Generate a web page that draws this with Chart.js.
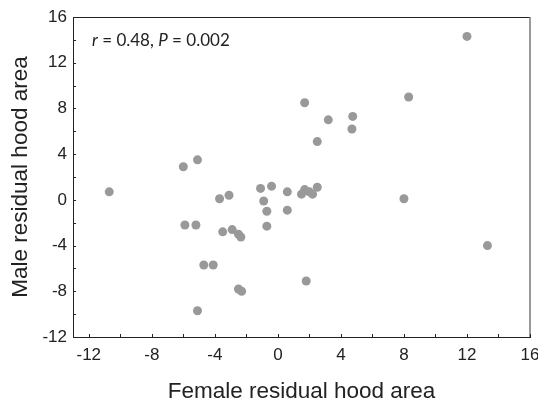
<!DOCTYPE html>
<html>
<head>
<meta charset="utf-8">
<script src="https://cdn.jsdelivr.net/npm/chart.js@4/dist/chart.umd.min.js"></script>
<style>
  body { margin: 0; background: #fff; }
  #wrap { width: 538px; height: 404px; }
</style>
</head>
<body>
<div id="wrap"><canvas id="ScatterGraph" width="538" height="404"></canvas></div>
<script>
// female residual (x) vs male residual (y) hood area
let FemaleResidual = [-10.7, -6.0, -5.1, -3.7, -3.1, -5.9, -5.2, -3.5, -2.9, -2.5, -2.35, -4.7, -4.1, -2.5, -2.3, -5.1,
    1.7, 3.2, 4.75, 4.7, 2.5, -1.1, -0.4, -0.9, -0.7, -0.7, 0.6, 0.6, 1.5, 1.7, 2.0, 2.2, 2.5, 1.8, 12.0, 8.3, 8.0, 13.3];
let MaleResidual = [0.7, 2.9, 3.5, 0.1, 0.4, -2.2, -2.2, -2.8, -2.6, -3.0, -3.25, -5.7, -5.7, -7.8, -8.0, -9.7,
    8.5, 7.0, 7.3, 6.2, 5.1, 1.0, 1.2, -0.1, -1.0, -2.3, 0.7, -0.9, 0.5, 0.9, 0.7, 0.5, 1.1, -7.1, 14.3, 9.0, 0.1, -4.0];
let XTicks = [-12, -10, -8, -6, -4, -2, 0, 2, 4, 6, 8, 10, 12, 14, 16];
let YTicks = [-12, -10, -8, -6, -4, -2, 0, 2, 4, 6, 8, 10, 12, 14, 16];
let AxisRange = {xMin: -13, xMax: 16, yMin: -12, yMax: 16};
let StatsText = ["r", " = 0.48, ", "P", " = 0.002"];

const grey = "#999999";
const axisColor = "#222222";

let points = FemaleResidual.map((x, i) => ({x: x, y: MaleResidual[i]}));

// draws the box top/right edges, inward tick marks and the r/P label
const frameAndTicks = {
    id: "frameAndTicks",
    afterDraw(chart) {
        const ctx = chart.ctx;
        const a = chart.chartArea;
        const xs = chart.scales.x, ys = chart.scales.y;
        ctx.save();
        ctx.lineWidth = 1;
        ctx.strokeStyle = axisColor;
        ctx.beginPath();
        ctx.moveTo(a.left, a.top + 0.5);
        ctx.lineTo(a.right, a.top + 0.5);
        ctx.stroke();
        ctx.strokeStyle = "#777777";
        ctx.lineWidth = 1.5;
        ctx.beginPath();
        ctx.moveTo(a.right, a.top);
        ctx.lineTo(a.right, a.bottom);
        ctx.stroke();

        ctx.strokeStyle = axisColor;
        ctx.lineWidth = 1;
        ctx.beginPath();
        xs.ticks.forEach(t => {
            const px = Math.round(xs.getPixelForValue(t.value)) + 0.5;
            ctx.moveTo(px, a.bottom);
            ctx.lineTo(px, a.bottom - 3);
        });
        ys.ticks.forEach(t => {
            const py = Math.round(ys.getPixelForValue(t.value)) + 0.5;
            ctx.moveTo(a.left, py);
            ctx.lineTo(a.left + 3, py);
        });
        ctx.stroke();

        // stats label
        let x = a.left + 19;
        const y = a.top + 24;
        ctx.fillStyle = "#222222";
        ctx.textBaseline = "middle";
        StatsText.forEach((s, i) => {
            ctx.font = (i % 2 === 0 ? "italic " : "") + "17px Lato";
            ctx.fillText(s, x, y);
            x += ctx.measureText(s).width;
        });
        ctx.restore();
    }
};

new Chart("ScatterGraph", {
    type: "scatter",
    data: {
        datasets: [{
            data: points,
            backgroundColor: grey,
            borderWidth: 0,
            pointRadius: 4.5,
            pointHoverRadius: 4.5
        }]
    },
    options: {
        responsive: false,
        animation: false,
        events: [],
        layout: {padding: {top: 17, right: 8, left: 0, bottom: 0}},
        plugins: {legend: {display: false}, tooltip: {enabled: false}},
        scales: {
            x: {
                type: "linear",
                min: AxisRange.xMin,
                max: AxisRange.xMax,
                afterBuildTicks: s => { s.ticks = XTicks.map(v => ({value: v})); },
                afterFit: s => { s.height = 67; s.paddingLeft = 0; s.paddingRight = 0; },
                ticks: {
                    autoSkip: false,
                    maxRotation: 0,
                    padding: 8,
                    color: "#222",
                    font: {family: "Liberation Sans", size: 17},
                    callback: v => (v % 4 === 0 ? v : "")
                },
                grid: {display: false, drawTicks: false},
                border: {display: true, color: axisColor, width: 1},
                title: {
                    display: true,
                    text: "Female residual hood area",
                    color: "#222",
                    font: {family: "Liberation Sans", size: 22.5, lineHeight: 1},
                    padding: {top: 0, bottom: 1}
                }
            },
            y: {
                type: "linear",
                min: AxisRange.yMin,
                max: AxisRange.yMax,
                afterBuildTicks: s => { s.ticks = YTicks.map(v => ({value: v})); },
                afterFit: s => { s.width = 73; s.paddingTop = 0; s.paddingBottom = 0; },
                ticks: {
                    autoSkip: false,
                    padding: 6,
                    color: "#222",
                    font: {family: "Liberation Sans", size: 17},
                    callback: v => (v % 4 === 0 ? v : "")
                },
                grid: {display: false, drawTicks: false},
                border: {display: true, color: axisColor, width: 1},
                title: {
                    display: true,
                    text: "Male residual hood area",
                    color: "#222",
                    font: {family: "Liberation Sans", size: 22.5, lineHeight: 1},
                    padding: {top: 10, bottom: 0}
                }
            }
        }
    },
    plugins: [frameAndTicks]
});
</script>
</body>
</html>
